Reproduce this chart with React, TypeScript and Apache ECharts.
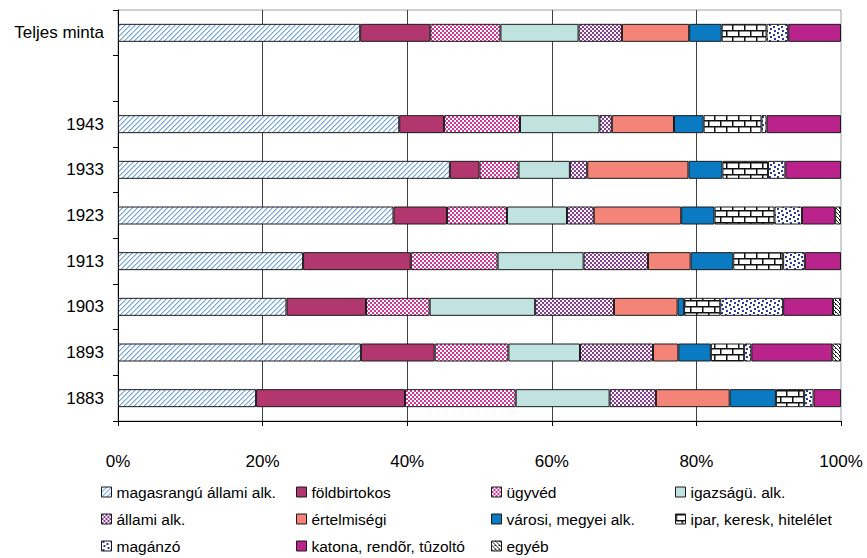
import React, { useEffect, useRef } from 'react';
import * as echarts from 'echarts';

const categories = ['1883', '1893', '1903', '1913', '1923', '1933', '1943', '', 'Teljes minta'];
const seriesNames = [
  'magasrangú állami alk.',
  'földbirtokos',
  'ügyvéd',
  'igazságü. alk.',
  'állami alk.',
  'értelmiségi',
  'városi, megyei alk.',
  'ipar, keresk, hitelélet',
  'magánzó',
  'katona, rendõr, tûzoltó',
  'egyéb',
];
const magasrangu = [19.1, 33.6, 23.3, 25.6, 38.1, 45.9, 38.9, null, 33.5];
const foldbirtokos = [20.6, 10.2, 11.0, 14.9, 7.4, 4.1, 6.2, null, 9.7];
const ugyved = [15.3, 10.2, 8.8, 12.0, 8.3, 5.4, 10.5, null, 9.7];
const igazsagu = [13.0, 9.9, 14.6, 11.9, 8.3, 7.1, 11.0, null, 10.8];
const allami = [6.4, 10.1, 10.9, 8.9, 3.7, 2.4, 1.7, null, 6.0];
const ertelmisegi = [10.2, 3.5, 8.8, 5.9, 12.1, 14.0, 8.6, null, 9.3];
const varosi = [6.4, 4.5, 0.9, 5.9, 4.6, 4.7, 4.1, null, 4.5];
const ipar = [3.9, 4.6, 5.0, 6.9, 8.3, 6.3, 8.0, null, 6.2];
const maganzo = [1.3, 1.0, 8.7, 3.0, 3.8, 2.4, 0.7, null, 3.0];
const katona = [3.8, 11.2, 6.9, 5.0, 4.6, 7.7, 10.3, null, 7.3];
const egyeb = [0, 1.2, 1.1, 0, 0.8, 0, 0, null, 0];
const seriesValues = [magasrangu, foldbirtokos, ugyved, igazsagu, allami, ertelmisegi, varosi, ipar, maganzo, katona, egyeb];
const xTickValues = [0, 20, 40, 60, 80, 100];

const legendColumns = [
  [0, 4, 8],
  [1, 5, 9],
  [2, 6, 10],
  [3, 7],
];
const legendLefts = [101, 296, 491, 675];

function tile(w: number, h: number, draw: (ctx: CanvasRenderingContext2D) => void) {
  const c = document.createElement('canvas');
  c.width = w;
  c.height = h;
  const ctx = c.getContext('2d') as CanvasRenderingContext2D;
  draw(ctx);
  return { image: c, repeat: 'repeat', imageWidth: w, imageHeight: h } as any;
}

function makeFills(): any[] {
  const hatch = tile(5, 5, (ctx) => {
    ctx.fillStyle = '#ffffff';
    ctx.fillRect(0, 0, 5, 5);
    for (let i = 0; i < 5; i++) {
      ctx.fillStyle = '#6ea4e2';
      ctx.fillRect(4 - i, i, 1, 1);
      ctx.fillStyle = '#b8d3f1';
      ctx.fillRect((5 - i) % 5, i, 1, 1);
    }
  });
  const checker = (col: string) =>
    tile(4, 4, (ctx) => {
      ctx.fillStyle = '#ffffff';
      ctx.fillRect(0, 0, 4, 4);
      ctx.fillStyle = col;
      ctx.fillRect(0, 0, 2, 2);
      ctx.fillRect(2, 2, 2, 2);
    });
  const brick = tile(12, 12, (ctx) => {
    ctx.fillStyle = '#ffffff';
    ctx.fillRect(0, 0, 12, 12);
    ctx.fillStyle = '#111111';
    ctx.fillRect(0, 0, 12, 1.5);
    ctx.fillRect(0, 6, 12, 1.5);
    ctx.fillRect(0, 1, 1.5, 5);
    ctx.fillRect(6, 7, 1.5, 5);
  });
  const dots = tile(8, 8, (ctx) => {
    ctx.fillStyle = '#ffffff';
    ctx.fillRect(0, 0, 8, 8);
    ctx.fillStyle = '#2a3a9c';
    ctx.fillRect(1, 0, 2, 2);
    ctx.fillRect(5, 2, 2, 2);
    ctx.fillRect(2, 4, 2, 2);
    ctx.fillRect(6, 6, 2, 2);
  });
  const other = tile(4, 4, (ctx) => {
    ctx.fillStyle = '#ffffff';
    ctx.fillRect(0, 0, 4, 4);
    ctx.fillStyle = '#222222';
    for (let i = 0; i < 4; i++) ctx.fillRect(i, i, 1, 1);
    ctx.fillRect(3, 0, 1, 1);
  });
  return [
    hatch,
    '#b3376f',
    checker('#d1359c'),
    '#c0e3e0',
    checker('#8c3a98'),
    '#f48378',
    '#0a7bc2',
    brick,
    dots,
    '#b9238b',
    other,
  ];
}

export default function App() {
  const ref = useRef<HTMLDivElement>(null);
  useEffect(() => {
    if (!ref.current) return;
    const chart = echarts.init(ref.current, null, { renderer: 'svg' });
    const fills = makeFills();
    const font = '"Liberation Sans", Arial, sans-serif';
    const series = seriesNames.map((name, i) => ({
      name,
      type: 'bar',
      stack: 'total',
      barWidth: 18,
      data: seriesValues[i].map((v) => (v === 0 ? null : v)),
      itemStyle: { color: fills[i], borderColor: '#1a1a1a', borderWidth: 1 },
      emphasis: { disabled: true },
    }));
    const legends = legendColumns.map((col, k) => ({
      orient: 'vertical',
      left: legendLefts[k],
      top: 484,
      padding: 0,
      itemWidth: 10,
      itemHeight: 10,
      itemGap: 11,
      selectedMode: false,
      icon: 'rect',
      data: col.map((i) => seriesNames[i]),
      itemStyle: { borderColor: '#1a1a1a', borderWidth: 1 },
      textStyle: { fontFamily: font, fontSize: 15.5, color: '#000', lineHeight: 16 },
    }));
    chart.setOption({
      animation: false,
      backgroundColor: '#ffffff',
      grid: {
        left: 118,
        right: 26,
        top: 10,
        bottom: 137,
        show: true,
        borderColor: '#a0a0a0',
        borderWidth: 1,
        backgroundColor: '#ffffff',
      },
      legend: legends,
      xAxis: {
        type: 'value',
        min: xTickValues[0],
        max: xTickValues[xTickValues.length - 1],
        interval: 20,
        axisLine: { show: true, lineStyle: { color: '#000', width: 1 } },
        axisTick: { show: true, length: 5, lineStyle: { color: '#000' } },
        splitLine: { show: true, showMinLine: false, showMaxLine: false, lineStyle: { color: '#404040', width: 1 } },
        axisLabel: { formatter: '{value}%', fontFamily: font, fontSize: 17, color: '#000', margin: 32 },
      },
      yAxis: {
        type: 'category',
        data: categories,
        axisLine: { show: true, lineStyle: { color: '#000', width: 1 } },
        axisTick: { show: true, length: 5, alignWithLabel: false, lineStyle: { color: '#000' } },
        axisLabel: { fontFamily: font, fontSize: 17, color: '#000', margin: 14 },
        splitLine: { show: false },
      },
      series,
    });
    return () => chart.dispose();
  }, []);
  return <div ref={ref} style={{ position: 'absolute', left: 0, top: 0, width: 867, height: 558 }} />;
}
